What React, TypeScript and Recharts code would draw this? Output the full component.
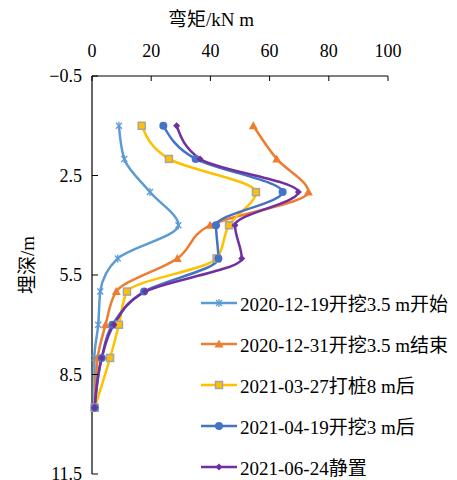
import React from "react";
import { LineChart, Line, XAxis, YAxis } from "recharts";

const depths = [1, 2, 3, 4, 5, 6, 7, 8, 9.5];
const s1 = [9.1, 10.9, 19.6, 29.2, 8.7, 2.8, 2.1, 0.8, 0.9];
const s2 = [54.5, 62.4, 73.1, 39.9, 28.8, 8.2, 4.6, 1.9, 0.9];
const s3 = [16.8, 26.0, 55.4, 46.3, 42.1, 11.8, 9.1, 6.1, 0.9];
const s4 = [24.1, 35.0, 64.4, 41.9, 42.7, 17.6, 6.9, 3.3, 0.9];
const s5 = [28.6, 36.5, 69.7, 48.3, 50.6, 18.0, 7.4, 3.3, 0.9];

const xTicks = [0, 20, 40, 60, 80, 100];
const yTicks = [-0.5, 2.5, 5.5, 8.5, 11.5];

const seriesNames = [
  "2020-12-19开挖3.5 m开始",
  "2020-12-31开挖3.5 m结束",
  "2021-03-27打桩8 m后",
  "2021-04-19开挖3 m后",
  "2021-06-24静置",
];
const COLORS = ["#5B9BD5", "#ED7D31", "#FFC000", "#4472C4", "#7030A0"];
const SHAPES = ["star", "triangle", "square", "circle", "diamond"];
const KEYS = ["s1", "s2", "s3", "s4", "s5"];

const data = depths.map((d, i) => ({
  depth: d,
  s1: s1[i],
  s2: s2[i],
  s3: s3[i],
  s4: s4[i],
  s5: s5[i],
}));

const FONT = '"Liberation Serif", "Times New Roman", "Noto Sans CJK SC", serif';

const Marker = ({ cx, cy, shape, color }: any) => {
  if (cx == null || cy == null) return null;
  switch (shape) {
    case "star":
      return (
        <g stroke={color} strokeWidth={1.3}>
          <line x1={cx - 3} y1={cy - 3} x2={cx + 3} y2={cy + 3} />
          <line x1={cx - 3} y1={cy + 3} x2={cx + 3} y2={cy - 3} />
          <line x1={cx} y1={cy - 4} x2={cx} y2={cy + 4} />
        </g>
      );
    case "triangle":
      return (
        <polygon
          points={`${cx},${cy - 4.5} ${cx + 4.5},${cy + 3.5} ${cx - 4.5},${cy + 3.5}`}
          fill={color}
        />
      );
    case "square":
      return (
        <rect x={cx - 3.5} y={cy - 3.5} width={7} height={7} fill={color} stroke="#A5A5A5" strokeWidth={1.5} />
      );
    case "circle":
      return <circle cx={cx} cy={cy} r={4} fill={color} />;
    default:
      return (
        <polygon
          points={`${cx},${cy - 3.5} ${cx + 3.5},${cy} ${cx},${cy + 3.5} ${cx - 3.5},${cy}`}
          fill={color}
        />
      );
  }
};

export default function App() {
  return (
    <div style={{ position: "absolute", left: 0, top: 0, width: 457, height: 480, background: "#fff" }}>
      <div
        style={{
          position: "absolute",
          left: 168,
          top: 8,
          fontFamily: FONT,
          fontSize: 19,
          whiteSpace: "nowrap",
          lineHeight: "24px",
        }}
      >
        弯矩/kN m
      </div>
      <div
        style={{
          position: "absolute",
          left: 25,
          top: 265,
          transform: "translate(-50%, -50%) rotate(-90deg)",
          fontFamily: FONT,
          fontSize: 19,
          whiteSpace: "nowrap",
        }}
      >
        埋深/m
      </div>
      <LineChart
        width={457}
        height={480}
        data={data}
        layout="vertical"
        margin={{ top: 46, right: 69, bottom: 6, left: 32 }}
        style={{ position: "absolute", left: 0, top: 0 }}
      >
        <XAxis
          type="number"
          orientation="top"
          domain={[0, 100]}
          ticks={xTicks}
          height={30}
          axisLine={{ stroke: "#000", strokeWidth: 1.2 }}
          tickLine={{ stroke: "#000" }}
          tickSize={-5}
          tickMargin={24}
          tick={{ fill: "#000", fontSize: 18, fontFamily: FONT }}
          interval={0}
        />
        <YAxis
          type="number"
          dataKey="depth"
          domain={[-0.5, 11.5]}
          ticks={yTicks}
          width={60}
          axisLine={{ stroke: "#000", strokeWidth: 1.2 }}
          tickLine={{ stroke: "#000" }}
          tickSize={-6}
          tickMargin={16}
          tick={{ fill: "#000", fontSize: 18, fontFamily: FONT }}
          tickFormatter={(v: number) => (v < 0 ? "\u2212" + Math.abs(v).toFixed(1) : v.toFixed(1))}
          interval={0}
        />
        {KEYS.map((k, i) => (
          <Line
            key={k}
            dataKey={k}
            type="monotone"
            stroke={COLORS[i]}
            strokeWidth={2.5}
            isAnimationActive={false}
            dot={(p: any) => <Marker key={`${k}-${p.index}`} cx={p.cx} cy={p.cy} shape={SHAPES[i]} color={COLORS[i]} />}
            activeDot={false}
          />
        ))}
      </LineChart>
      <div style={{ position: "absolute", left: 200, top: 282 }}>
        {seriesNames.map((n, i) => (
          <div key={n} style={{ display: "flex", alignItems: "center", height: 41, whiteSpace: "nowrap" }}>
            <svg width={38} height={14} style={{ marginRight: 2 }}>
              <line x1={1} y1={7} x2={37} y2={7} stroke={COLORS[i]} strokeWidth={2.5} />
              <Marker cx={19} cy={7} shape={SHAPES[i]} color={COLORS[i]} />
            </svg>
            <span style={{ fontFamily: FONT, fontSize: 19 }}>{n}</span>
          </div>
        ))}
      </div>
    </div>
  );
}
